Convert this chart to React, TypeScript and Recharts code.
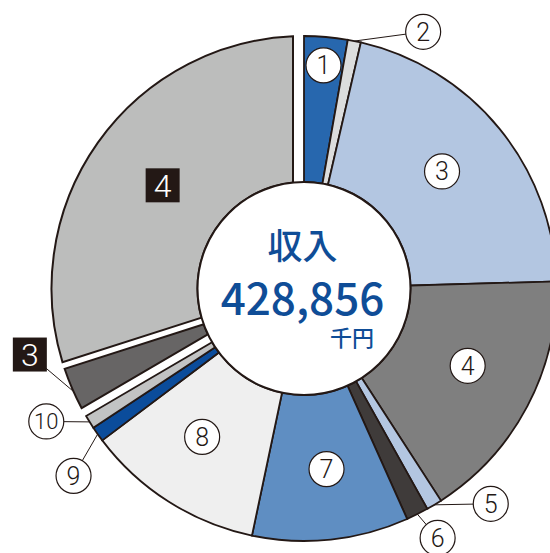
import { PieChart, Pie, Cell } from "recharts"

// 収入 428,856千円 の内訳（単位：千円）
const total = 428856
const mainLabels = ["1", "2", "3", "4", "5", "6", "7", "8", "9", "10"]
const mainValues = [11900, 3600, 89800, 70000, 4300, 6100, 42900, 49000, 4200, 3700]
const splitLabels = ["3", "4"]
const splitValues = [15000, 128356]

const centerTitle = "収入"
const centerValue = "428,856"
const centerUnit = "千円"

const mainColors = [
  "#2767ae", "#dcdddd", "#b3c6e1", "#7f7f7f", "#b3c6e1",
  "#3f3b3a", "#5f8ec2", "#efefef", "#0b4c9b", "#c2c3c3",
]
const splitColors = ["#676565", "#bcbdbc"]

// label placement: radius + clockwise shift (deg) from slice middle
const mainSpots = [
  { r: 224, shift: 0, out: false },
  { r: 283, shift: 13.4, out: true },
  { r: 181, shift: -1, out: false },
  { r: 181, shift: -2.5, out: false },
  { r: 285, shift: -9.9, out: true },
  { r: 283, shift: -1.5, out: true },
  { r: 182, shift: -1, out: false },
  { r: 180, shift: 2, out: false },
  { r: 297, shift: -3.9, out: true },
  { r: 290, shift: 4.6, out: true },
]
const splitSpots = [
  { r: 282, shift: 10.5, out: true },
  { r: 175, shift: 0, out: false },
]
// white gaps (px) on [start edge, end edge] of the split-off slices
const splitGaps = [
  [9, 3.5],
  [3.5, 11],
]

const INK = "#231815"
const BLUE = "#0f4d97"
const CX = 304
const CY = 288.5
const R_OUT = 252.5
const R_IN = 106.5
const RAD = Math.PI / 180
const mainSum = mainValues.reduce((a, b) => a + b, 0)
const mainEnd = 90 - (360 * mainSum) / total

const numFont = "Roboto, 'Liberation Sans', sans-serif"
const jpFont = "'Noto Sans CJK JP', 'Noto Sans', sans-serif"

const mainData = mainLabels.map((name, i) => ({ name, value: mainValues[i] }))
const splitData = splitLabels.map((name, i) => ({ name, value: splitValues[i] }))

function polar(cx: number, cy: number, r: number, deg: number) {
  return { x: cx + r * Math.cos(-deg * RAD), y: cy + r * Math.sin(-deg * RAD) }
}

function MainLabel(props: any) {
  const { cx, cy, midAngle, outerRadius, index } = props
  const spot = mainSpots[index]
  const pos = polar(cx, cy, spot.r, midAngle - spot.shift)
  const anchor = polar(cx, cy, outerRadius, midAngle)
  return (
    <g>
      {spot.out && <line x1={anchor.x} y1={anchor.y} x2={pos.x} y2={pos.y} stroke={INK} strokeWidth={1} />}
      <circle cx={pos.x} cy={pos.y} r={17.5} fill="#fff" stroke={INK} strokeWidth={1.2} />
      <text
        x={pos.x}
        y={pos.y}
        dy="0.36em"
        textAnchor="middle"
        fontSize={mainLabels[index].length > 1 ? 22 : 25}
        fontFamily={numFont}
        fontWeight={300}
        fill={INK}
      >
        {mainLabels[index]}
      </text>
    </g>
  )
}

// slice with parallel white gaps along its edges
function insetPath(cx: number, cy: number, r0: number, r1: number, a1: number, a2: number, g1: number, g2: number) {
  const pt = (r: number, a: number, g: number, side: number) => {
    const t = Math.sqrt(r * r - g * g)
    const x = cx + t * Math.cos(a * RAD) + g * side * Math.sin(a * RAD)
    const y = cy - t * Math.sin(a * RAD) + g * side * Math.cos(a * RAD)
    return `${x.toFixed(2)},${y.toFixed(2)}`
  }
  const large = a1 - a2 > 180 ? 1 : 0
  return (
    `M${pt(r1, a1, g1, 1)} A${r1},${r1} 0 ${large} 1 ${pt(r1, a2, g2, -1)} ` +
    `L${pt(r0, a2, g2, -1)} A${r0},${r0} 0 ${large} 0 ${pt(r0, a1, g1, 1)} Z`
  )
}

function SplitSlice(props: any) {
  const { cx, cy, midAngle, startAngle, endAngle, innerRadius, outerRadius, index } = props
  const [g1, g2] = splitGaps[index]
  const spot = splitSpots[index]
  const pos = polar(cx, cy, spot.r, midAngle - spot.shift)
  const anchor = polar(cx, cy, outerRadius, midAngle)
  const size = 34
  return (
    <g>
      <path
        d={insetPath(cx, cy, innerRadius, outerRadius, startAngle, endAngle, g1, g2)}
        fill={splitColors[index]}
        stroke={INK}
        strokeWidth={2}
      />
      {spot.out && <line x1={anchor.x} y1={anchor.y} x2={pos.x} y2={pos.y} stroke={INK} strokeWidth={1} />}
      <rect x={pos.x - size / 2} y={pos.y - size / 2} width={size} height={size} fill={INK} />
      <text
        x={pos.x}
        y={pos.y}
        dy="0.36em"
        textAnchor="middle"
        fontSize={32}
        fontFamily={numFont}
        fontWeight={300}
        fill="#fff"
      >
        {splitLabels[index]}
      </text>
    </g>
  )
}

function CenterLabel(props: any) {
  const { cx, cy } = props
  return (
    <g>
      <circle cx={cx} cy={cy} r={R_IN} fill="#fff" stroke={INK} strokeWidth={2} />
      <text x={cx - 1.5} y={cy - 30} textAnchor="middle" fontSize={35} fontWeight={500} fontFamily={jpFont} fill={BLUE}>
        {centerTitle}
      </text>
      <text x={cx - 1.5} y={cy + 26} textAnchor="middle" fontSize={44} fontWeight={500} fontFamily={jpFont} fill={BLUE}>
        {centerValue}
      </text>
      <text x={cx + 70} y={cy + 57} textAnchor="end" fontSize={22} fontWeight={500} fontFamily={jpFont} fill={BLUE}>
        {centerUnit}
      </text>
    </g>
  )
}

export default function App() {
  return (
    <div style={{ position: "absolute", left: 0, top: 0, width: 550, height: 553, background: "#fff" }}>
      <PieChart width={550} height={553} margin={{ top: 0, right: 0, bottom: 0, left: 0 }}>
        <Pie
          data={mainData}
          dataKey="value"
          cx={CX}
          cy={CY}
          innerRadius={R_IN}
          outerRadius={R_OUT}
          startAngle={90}
          endAngle={mainEnd}
          stroke={INK}
          strokeWidth={1.8}
          label={MainLabel}
          labelLine={false}
          isAnimationActive={false}
        >
          {mainData.map((d, i) => (
            <Cell key={d.name} fill={mainColors[i]} />
          ))}
        </Pie>
        <Pie
          data={splitData}
          dataKey="value"
          cx={CX}
          cy={CY}
          innerRadius={R_IN}
          outerRadius={R_OUT}
          startAngle={mainEnd}
          endAngle={-270}
          fill="transparent"
          stroke="none"
          label={SplitSlice}
          labelLine={false}
          isAnimationActive={false}
        />
        <Pie
          data={[{ name: centerTitle, value: total }]}
          dataKey="value"
          cx={CX}
          cy={CY}
          innerRadius={0}
          outerRadius={R_IN}
          fill="#fff"
          stroke="none"
          label={CenterLabel}
          labelLine={false}
          isAnimationActive={false}
        />
      </PieChart>
    </div>
  )
}
